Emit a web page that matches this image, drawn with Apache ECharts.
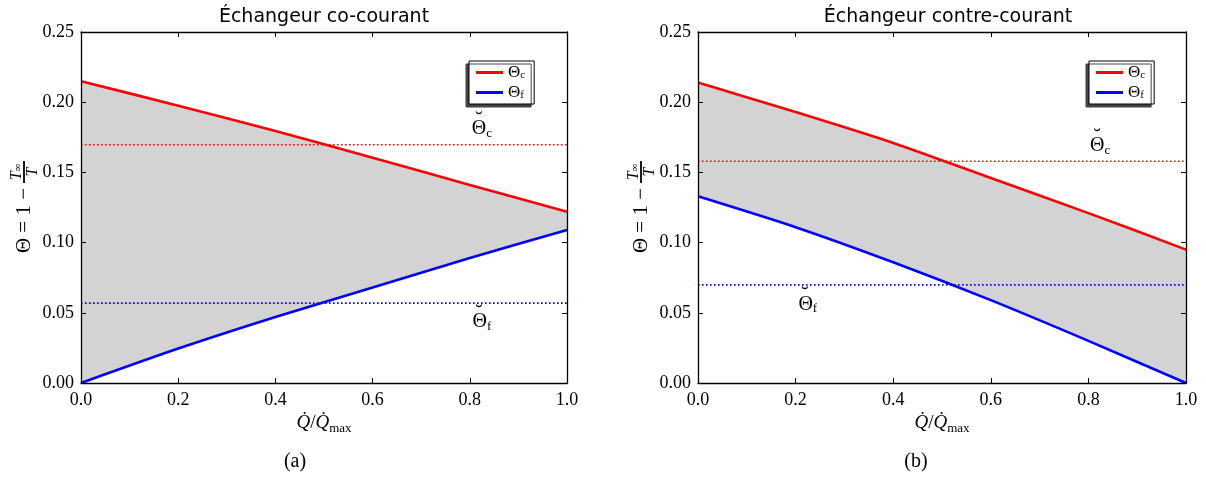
<!DOCTYPE html>
<html>
<head>
<meta charset="utf-8">
<script src="https://cdn.jsdelivr.net/npm/echarts@6/dist/echarts.min.js"></script>
<style>
  html, body { margin: 0; padding: 0; background: #fff; }
  #chart { width: 1206px; height: 480px; }
</style>
</head>
<body>
<div id="chart"></div>
<script>
// Heat flow fraction Q̇/Q̇max along the exchanger
const xs = [0.0, 0.2, 0.4, 0.6, 0.8, 1.0];

// Co-current exchanger: hot and cold stream Θ = 1 − T∞/T
const coHot  = [0.215, 0.1975, 0.1795, 0.1605, 0.141, 0.122];
const coCold = [0.000, 0.0245, 0.047, 0.068, 0.089, 0.109];
// Mean values Θ̆c, Θ̆f
const coMean = [0.1697, 0.0569];

// Counter-current exchanger
const counterHot  = [0.214, 0.193, 0.171, 0.146, 0.121, 0.095];
const counterCold = [0.133, 0.111, 0.086, 0.059, 0.030, 0.000];
const counterMean = [0.1579, 0.0699];

const titles = ['Échangeur co-courant', 'Échangeur contre-courant'];
const captions = ['(a)', '(b)'];

const SERIF = '"Liberation Serif", "DejaVu Serif", serif';
const SANS = '"DejaVu Sans", sans-serif';

const grids = [
  { left: 81, right: 639, top: 32, bottom: 97 },
  { left: 698, right: 20, top: 32, bottom: 97 }
];

// placement of the Θ̆ annotations, in data coordinates
const notePos = [
  { c: [0.825, 0.181], f: [0.825, 0.0435] },
  { c: [0.824, 0.169], f: [0.225, 0.056] }
];

const legendPos = [{ left: 469, top: 61 }, { left: 1089, top: 61 }];

const noteRich = {
  t: { fontFamily: SERIF, fontSize: 20, lineHeight: 22, verticalAlign: 'middle', color: '#000' },
  s: { fontFamily: SERIF, fontSize: 13, lineHeight: 12, verticalAlign: 'bottom', color: '#000' }
};
const legendRich = {
  t: { fontFamily: SERIF, fontSize: 17, lineHeight: 16, verticalAlign: 'middle', color: '#000' },
  s: { fontFamily: SERIF, fontSize: 11, lineHeight: 9, verticalAlign: 'bottom', color: '#000' }
};

const pairs = (ys) => xs.map((x, i) => [x, ys[i]]);
const SMOOTH = 0.25;

function axesFor(i) {
  const common = {
    gridIndex: i, type: 'value', z: 5,
    axisLine: { show: true, onZero: false, lineStyle: { color: '#000', width: 1.3 } },
    axisTick: { show: true, inside: true, length: 5, lineStyle: { color: '#000', width: 1 } },
    splitLine: { show: false }
  };
  const x = Object.assign({}, common, { min: 0, max: 1, interval: 0.2 });
  const y = Object.assign({}, common, { min: 0, max: 0.25, interval: 0.05 });
  return {
    xAxis: [
      Object.assign({}, x, {
        position: 'bottom',
        axisLabel: { margin: 8, fontFamily: SERIF, fontSize: 18, color: '#000', formatter: v => v.toFixed(1) },
        name: '{q|Q̇}{n|/}{q|Q̇}{s|max}',
        nameLocation: 'middle', nameGap: 27,
        nameTextStyle: {
          rich: {
            q: { fontFamily: SERIF, fontStyle: 'italic', fontSize: 19, lineHeight: 24, verticalAlign: 'middle', color: '#000' },
            n: { fontFamily: SERIF, fontSize: 19, lineHeight: 24, verticalAlign: 'middle', color: '#000' },
            s: { fontFamily: SERIF, fontSize: 13, lineHeight: 13, verticalAlign: 'bottom', color: '#000' }
          }
        }
      }),
      Object.assign({}, x, { position: 'top', axisLabel: { show: false } })
    ],
    yAxis: [
      Object.assign({}, y, {
        position: 'left',
        axisLabel: { margin: 7, fontFamily: SERIF, fontSize: 18, color: '#000', formatter: v => v.toFixed(2) }
      }),
      Object.assign({}, y, { position: 'right', axisLabel: { show: false } })
    ]
  };
}

function seriesFor(i, hot, cold, mean) {
  const xi = 2 * i, yi = 2 * i;
  const base = { type: 'line', xAxisIndex: xi, yAxisIndex: yi, symbol: 'none', silent: true, smooth: SMOOTH };
  const meanLine = (v, color, label, pos) => Object.assign({}, base, {
    name: 'mean' + i + label,
    data: [[0, v], [1, v]],
    smooth: false,
    z: 3,
    lineStyle: { color: color, width: 1.6, type: [1.6, 2.4] },
    markPoint: {
      symbol: 'circle', symbolSize: 0, silent: true,
      data: [
        { coord: pos, label: { show: true, position: 'inside', formatter: '{t|Θ}{s|' + label + '}', rich: noteRich } },
        { coord: pos, label: { show: true, position: 'inside', offset: [-3, -9], formatter: '˘',
            fontFamily: SERIF, fontSize: 22, color: '#000' } }
      ]
    }
  });
  return [
    // grey band: filled below the hot curve, then cleared below the cold curve
    Object.assign({}, base, {
      name: 'bandTop' + i, data: pairs(hot), z: 1,
      lineStyle: { opacity: 0 },
      areaStyle: { color: '#d3d3d3', opacity: 1 }
    }),
    Object.assign({}, base, {
      name: 'bandBottom' + i, data: pairs(cold), z: 2,
      lineStyle: { opacity: 0 },
      areaStyle: { color: '#ffffff', opacity: 1 }
    }),
    meanLine(mean[0], '#ff0000', 'c', notePos[i].c),
    meanLine(mean[1], '#0000ff', 'f', notePos[i].f),
    Object.assign({}, base, {
      name: 'Θc', data: pairs(hot), z: 4,
      itemStyle: { color: '#ff0000' },
      lineStyle: { color: '#ff0000', width: 2.6 }
    }),
    Object.assign({}, base, {
      name: 'Θf', data: pairs(cold), z: 4,
      itemStyle: { color: '#0000ff' },
      lineStyle: { color: '#0000ff', width: 2.6 }
    })
  ];
}

function yLabel(cx, cy) {
  // vertical label Θ = 1 − T∞/T, drawn rotated by 90°
  return {
    type: 'group', x: cx, y: cy, rotation: Math.PI / 2,
    children: [
      { type: 'text', x: 27, y: 0, style: { text: 'Θ = 1 −', fontFamily: SERIF, fontSize: 21, fill: '#000', align: 'right', verticalAlign: 'middle' } },
      { type: 'line', shape: { x1: 32, y1: 0, x2: 54, y2: 0 }, style: { stroke: '#000', lineWidth: 1.8 } },
      { type: 'text', x: 43, y: -7.5, style: {
          text: '{i|T}{s|∞}', align: 'center', verticalAlign: 'middle',
          rich: {
            i: { fontFamily: SERIF, fontStyle: 'italic', fontSize: 16, lineHeight: 14, verticalAlign: 'middle', fill: '#000' },
            s: { fontFamily: SERIF, fontSize: 11, lineHeight: 9, verticalAlign: 'bottom', fill: '#000' }
          } } },
      { type: 'text', x: 43, y: 8.5, style: { text: 'T', fontFamily: SERIF, fontStyle: 'italic', fontSize: 16, fill: '#000', align: 'center', verticalAlign: 'middle' } }
    ]
  };
}

const a0 = axesFor(0), a1 = axesFor(1);

const option = {
  animation: false,
  backgroundColor: '#fff',
  title: titles.map((t, i) => ({
    text: t,
    left: i === 0 ? 319 : 943, top: 3, textAlign: 'center',
    textStyle: { fontFamily: SANS, fontSize: 19, fontWeight: 'normal', color: '#000' }
  })),
  grid: grids,
  xAxis: a0.xAxis.concat(a1.xAxis),
  yAxis: a0.yAxis.concat(a1.yAxis),
  legend: legendPos.map(p => ({
    left: p.left, top: p.top, orient: 'vertical',
    data: ['Θc', 'Θf'],
    icon: 'rect', itemWidth: 27, itemHeight: 3, itemGap: 3, itemTextGap: 10,
    padding: [3, 9, 3, 7],
    backgroundColor: '#fff', borderColor: '#000', borderWidth: 1, borderRadius: 0,
    shadowColor: '#444', shadowBlur: 0, shadowOffsetX: -3, shadowOffsetY: 3,
    selectedMode: false,
    formatter: n => '{t|Θ}{s|' + (n === 'Θc' ? 'c' : 'f') + '}',
    textStyle: { rich: legendRich }
  })),
  graphic: [
    yLabel(24, 215),
    yLabel(641, 215),
    { type: 'text', x: 295, y: 462, style: { text: captions[0], fontFamily: SERIF, fontSize: 20, fill: '#000', align: 'center', verticalAlign: 'middle' } },
    { type: 'text', x: 916, y: 462, style: { text: captions[1], fontFamily: SERIF, fontSize: 20, fill: '#000', align: 'center', verticalAlign: 'middle' } }
  ],
  series: seriesFor(0, coHot, coCold, coMean).concat(seriesFor(1, counterHot, counterCold, counterMean))
};

const chart = echarts.init(document.getElementById('chart'), null, { renderer: 'canvas' });
chart.setOption(option);
</script>
</body>
</html>
